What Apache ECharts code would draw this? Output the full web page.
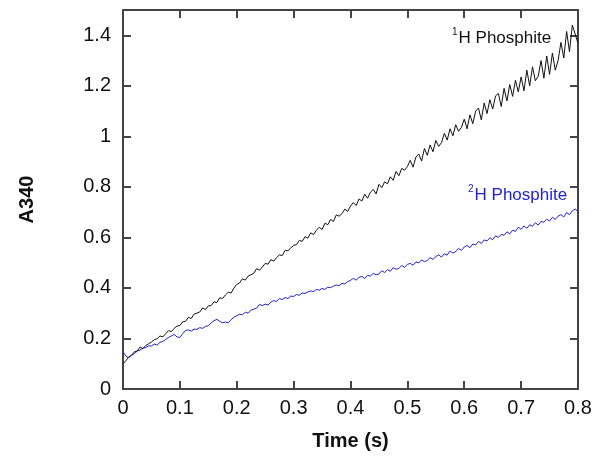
<!DOCTYPE html>
<html>
<head>
<meta charset="utf-8">
<script src="https://cdn.jsdelivr.net/npm/echarts@6/dist/echarts.min.js"></script>
<style>
html,body{margin:0;padding:0;background:#fff;}
#chart{width:596px;height:460px;}
</style>
</head>
<body>
<div id="chart"></div>
<script>
// Time (s)
const times = [
0,0.005,0.01,0.015,0.02,0.025,0.03,0.035,0.04,0.045,
0.05,0.055,0.06,0.065,0.07,0.075,0.08,0.085,0.09,0.095,
0.1,0.105,0.11,0.115,0.12,0.125,0.13,0.135,0.14,0.145,
0.15,0.155,0.16,0.165,0.17,0.175,0.18,0.185,0.19,0.195,
0.2,0.205,0.21,0.215,0.22,0.225,0.23,0.235,0.24,0.245,
0.25,0.255,0.26,0.265,0.27,0.275,0.28,0.285,0.29,0.295,
0.3,0.305,0.31,0.315,0.32,0.325,0.33,0.335,0.34,0.345,
0.35,0.355,0.36,0.365,0.37,0.375,0.38,0.385,0.39,0.395,
0.4,0.405,0.41,0.415,0.42,0.425,0.43,0.435,0.44,0.445,
0.45,0.455,0.46,0.465,0.47,0.475,0.48,0.485,0.49,0.495,
0.5,0.505,0.51,0.515,0.52,0.525,0.53,0.535,0.54,0.545,
0.55,0.555,0.56,0.565,0.57,0.575,0.58,0.585,0.59,0.595,
0.6,0.605,0.61,0.615,0.62,0.625,0.63,0.635,0.64,0.645,
0.65,0.655,0.66,0.665,0.67,0.675,0.68,0.685,0.69,0.695,
0.7,0.705,0.71,0.715,0.72,0.725,0.73,0.735,0.74,0.745,
0.75,0.755,0.76,0.765,0.77,0.775,0.78,0.785,0.79,0.795,
0.8
];
// 1H Phosphite, A340
const h1Values = [
0.100,0.112,0.127,0.134,0.147,0.151,0.166,0.160,0.172,0.179,
0.186,0.195,0.199,0.210,0.206,0.219,0.231,0.227,0.240,0.249,
0.251,0.266,0.268,0.284,0.279,0.297,0.300,0.305,0.321,0.314,
0.329,0.330,0.345,0.342,0.361,0.358,0.372,0.383,0.380,0.399,
0.414,0.420,0.436,0.431,0.447,0.452,0.458,0.476,0.470,0.483,
0.497,0.494,0.512,0.506,0.520,0.531,0.528,0.549,0.547,0.558,
0.569,0.571,0.588,0.584,0.603,0.597,0.618,0.611,0.628,0.640,
0.631,0.656,0.650,0.671,0.663,0.689,0.684,0.694,0.712,0.703,
0.724,0.738,0.726,0.752,0.744,0.771,0.755,0.779,0.790,0.772,
0.810,0.797,0.820,0.812,0.840,0.826,0.861,0.844,0.873,0.866,
0.880,0.905,0.878,0.918,0.930,0.902,0.952,0.925,0.966,0.939,
0.984,0.960,0.975,1.012,0.985,1.030,1.002,1.046,1.020,1.035,
1.068,1.030,1.085,1.050,1.100,1.112,1.065,1.132,1.090,1.145,
1.108,1.160,1.170,1.118,1.190,1.140,1.205,1.158,1.222,1.176,
1.235,1.180,1.262,1.200,1.275,1.220,1.238,1.300,1.230,1.318,
1.245,1.330,1.262,1.300,1.372,1.310,1.415,1.335,1.440,1.405,
1.368
];
// 2H Phosphite, A340
const h2Values = [
0.148,0.130,0.124,0.133,0.140,0.150,0.154,0.161,0.164,0.171,
0.170,0.178,0.174,0.185,0.188,0.196,0.204,0.210,0.216,0.206,
0.204,0.219,0.232,0.234,0.229,0.237,0.236,0.243,0.240,0.248,
0.250,0.262,0.270,0.276,0.268,0.262,0.265,0.262,0.274,0.284,
0.290,0.296,0.294,0.304,0.300,0.312,0.316,0.320,0.335,0.330,
0.336,0.332,0.344,0.350,0.346,0.358,0.354,0.362,0.358,0.368,
0.366,0.374,0.371,0.380,0.378,0.384,0.388,0.386,0.394,0.391,
0.398,0.394,0.403,0.401,0.407,0.412,0.409,0.418,0.416,0.425,
0.430,0.438,0.431,0.442,0.446,0.437,0.450,0.447,0.458,0.452,
0.455,0.468,0.461,0.472,0.466,0.480,0.474,0.477,0.489,0.482,
0.493,0.497,0.490,0.503,0.499,0.511,0.504,0.509,0.520,0.513,
0.524,0.531,0.522,0.535,0.530,0.546,0.538,0.544,0.556,0.549,
0.562,0.568,0.559,0.574,0.570,0.584,0.576,0.590,0.586,0.598,
0.591,0.606,0.600,0.612,0.608,0.622,0.614,0.628,0.624,0.640,
0.632,0.645,0.636,0.650,0.644,0.658,0.649,0.663,0.660,0.672,
0.665,0.680,0.671,0.684,0.690,0.681,0.698,0.690,0.705,0.712,
0.703
];
const seriesNames = ['1H Phosphite', '2H Phosphite'];
const xAxisTitle = 'Time (s)';
const yAxisTitle = 'A340';

const chart = echarts.init(document.getElementById('chart'), null, {renderer: 'canvas'});
const FONT = '"Liberation Sans", Arial, sans-serif';
const AX = '#444';

function pairs(vals) { return times.map((t, i) => [t, vals[i]]); }

function axisLine() { return { show: true, onZero: false, lineStyle: { color: AX, width: 2 } }; }
function axisTick() { return { show: true, inside: true, length: 8, lineStyle: { color: AX, width: 2 } }; }

chart.setOption({
  animation: false,
  backgroundColor: '#fff',
  grid: { left: 123, right: 18, top: 10, bottom: 71, containLabel: false },
  xAxis: [
    {
      type: 'value', min: 0, max: 0.8, interval: 0.1, position: 'bottom',
      axisLine: axisLine(), axisTick: axisTick(), splitLine: { show: false },
      axisLabel: { margin: 9, fontSize: 20, color: '#111', fontFamily: FONT },
      name: xAxisTitle, nameLocation: 'middle', nameGap: 42,
      nameTextStyle: { fontSize: 20, fontWeight: 'bold', color: '#111', fontFamily: FONT }
    },
    {
      type: 'value', min: 0, max: 0.8, interval: 0.1, position: 'top',
      axisLine: axisLine(), axisTick: axisTick(), splitLine: { show: false },
      axisLabel: { show: false }
    }
  ],
  yAxis: [
    {
      type: 'value', min: 0, max: 1.5, interval: 0.2, position: 'left',
      axisLine: axisLine(), axisTick: axisTick(), splitLine: { show: false },
      axisLabel: { margin: 12, fontSize: 20, color: '#111', fontFamily: FONT, showMaxLabel: false },
      name: yAxisTitle, nameLocation: 'middle', nameGap: 86, nameRotate: 90,
      nameTextStyle: { fontSize: 20, fontWeight: 'bold', color: '#111', fontFamily: FONT }
    },
    {
      type: 'value', min: 0, max: 1.5, interval: 0.2, position: 'right',
      axisLine: axisLine(), axisTick: axisTick(), splitLine: { show: false },
      axisLabel: { show: false }
    }
  ],
  series: [
    {
      name: seriesNames[0], type: 'line', data: pairs(h1Values),
      showSymbol: false, symbol: 'none', smooth: false,
      lineStyle: { color: '#111', width: 1 }, z: 3
    },
    {
      name: seriesNames[1], type: 'line', data: pairs(h2Values),
      showSymbol: false, symbol: 'none', smooth: false,
      lineStyle: { color: '#1f1fd0', width: 1 }, z: 2
    }
  ],
  graphic: [
    {
      type: 'text', left: 452, top: 27,
      style: {
        text: '{s|1}{n|H Phosphite}',
        rich: {
          s: { fontSize: 10, fontFamily: FONT, fill: '#111', verticalAlign: 'top', lineHeight: 20, padding: [0, 1, 0, 0] },
          n: { fontSize: 17, fontFamily: FONT, fill: '#111', verticalAlign: 'bottom', lineHeight: 20 }
        }
      }
    },
    {
      type: 'text', left: 468, top: 184,
      style: {
        text: '{s|2}{n|H Phosphite}',
        rich: {
          s: { fontSize: 10, fontFamily: FONT, fill: '#2222d4', verticalAlign: 'top', lineHeight: 20, padding: [0, 1, 0, 0] },
          n: { fontSize: 17, fontFamily: FONT, fill: '#2222d4', verticalAlign: 'bottom', lineHeight: 20 }
        }
      }
    }
  ]
});
</script>
</body>
</html>
